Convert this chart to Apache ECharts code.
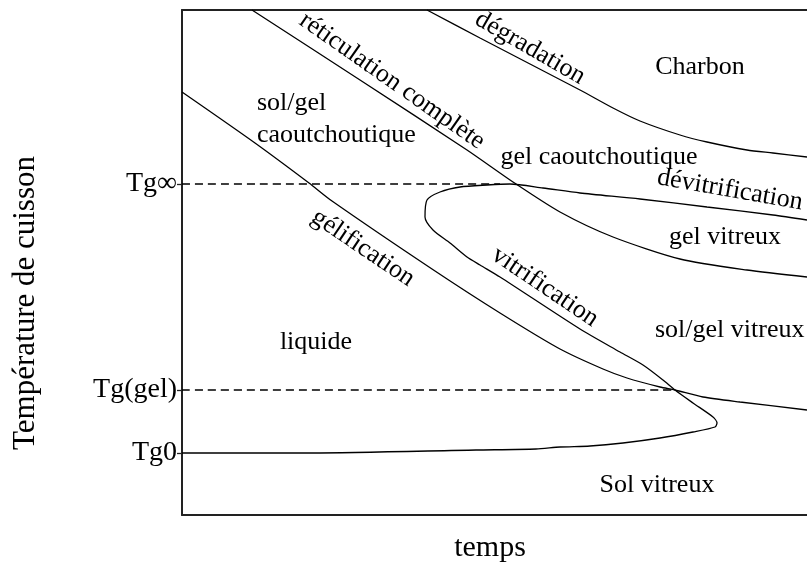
<!DOCTYPE html>
<html>
<head>
<meta charset="utf-8">
<script src="https://cdn.jsdelivr.net/npm/echarts@6/dist/echarts.min.js"></script>
<style>
  html, body { margin: 0; padding: 0; background: #fff; }
  #graph { width: 807px; height: 565px; }
</style>
</head>
<body>
<div id="graph"></div>
<script>
// axes: temps (arbitrary units), température (arbitrary units)
var xMax = 625;
var yMax = 505;

// températures caractéristiques
var tickValues = [62, 125, 331];
var tickLabels = ['Tg0', 'Tg(gel)', 'Tg\u221e'];

// courbes [temps, température]
var degradation = [[245, 505], [298, 477], [398, 425], [431, 407], [458, 394], [498, 380], [525, 373], [565, 365], [591, 362], [625, 358]];
var reticulation = [[70, 505], [178, 435], [285, 365], [331, 333], [378, 303], [431, 278], [498, 256], [565, 245], [625, 238]];
var gelification = [[0, 423], [73, 372], [127, 332], [150, 314], [250, 246], [318, 202], [378, 166], [421, 146], [445, 137], [478, 128], [493, 125], [521, 118], [558, 113], [625, 105]];
// Tg0 -> nez -> vitrification -> boucle -> dévitrification
var vitrification = [[0, 62], [130, 62], [294, 65], [354, 66], [378, 68], [408, 69], [441, 72], [478, 77], [511, 83],
  [533, 88], [535, 92], [531, 98], [511, 112], [493, 125], [481, 135], [461, 150], [438, 163], [398, 186],
  [318, 238], [298, 250], [285, 258], [268, 272], [251, 285], [243, 298], [245, 315], [258, 323], [278, 328], [305, 330],
  [328, 331], [361, 327], [398, 322], [458, 316], [525, 308], [591, 300], [625, 295]];

// lignes pointillées horizontales
var tgInfLine = [[0, 331], [318, 331]];
var tgGelLine = [[0, 125], [493, 125]];

// textes sur la figure: [temps, température, texte, rotation, alignement]
var labelsText = ['réticulation complète', 'dégradation', 'gélification', 'vitrification', 'dévitrification',
  'Charbon', 'sol/gel', 'caoutchoutique', 'gel caoutchoutique', 'gel vitreux', 'sol/gel vitreux', 'liquide', 'Sol vitreux'];
var labelsX = [210, 348, 181, 363, 548, 518, 75, 75, 417, 543, 473, 134, 475];
var labelsY = [434, 467, 267, 228, 325, 448, 412, 380, 358, 278, 185, 173, 30];
var labelsRotate = [-35, -30, -34, -34, -10, 0, 0, 0, 0, 0, 0, 0, 0];
var labelsAlign = ['center', 'center', 'center', 'center', 'center', 'center', 'left', 'left', 'center', 'center', 'left', 'center', 'center'];

var FONT = '"Liberation Serif", "Times New Roman", serif';

var labelData = [];
for (var i = 0; i < labelsText.length; i++) {
    labelData.push({
        value: [labelsX[i], labelsY[i]],
        name: labelsText[i],
        label: { rotate: labelsRotate[i], align: labelsAlign[i] }
    });
}

function curve(data, dashed) {
    return {
        type: 'line',
        data: data,
        symbol: 'none',
        silent: true,
        smooth: 0.25,
        lineStyle: {
            color: '#000',
            width: 1.3,
            type: dashed ? [8, 5] : 'solid'
        }
    };
}

var myChart = echarts.init(document.getElementById('graph'));
var option = {
    animation: false,
    backgroundColor: '#fff',
    grid: { left: 182, right: 0, top: 10, bottom: 50, containLabel: false, outerBoundsMode: 'none' },
    xAxis: [
        {
            type: 'value', min: 0, max: xMax, position: 'bottom',
            axisLine: { show: true, lineStyle: { color: '#222', width: 2 } },
            axisTick: { show: false }, axisLabel: { show: false }, splitLine: { show: false }
        },
        {
            type: 'value', min: 0, max: xMax, position: 'top',
            axisLine: { show: true, lineStyle: { color: '#222', width: 2 } },
            axisTick: { show: false }, axisLabel: { show: false }, splitLine: { show: false }
        }
    ],
    yAxis: {
        type: 'value', min: 0, max: yMax,
        axisLine: { show: true, lineStyle: { color: '#222', width: 2 } },
        splitLine: { show: false },
        axisTick: {
            show: true, length: 5, customValues: tickValues,
            lineStyle: { color: '#222', width: 1.3 }
        },
        axisLabel: {
            show: true, margin: 5, customValues: tickValues,
            fontFamily: FONT, fontSize: 28, color: '#000',
            formatter: function (value) {
                var k = tickValues.indexOf(value);
                return k >= 0 ? tickLabels[k] : '';
            }
        }
    },
    series: [
        curve(degradation),
        curve(reticulation),
        curve(gelification),
        curve(vitrification),
        curve(tgInfLine, true),
        curve(tgGelLine, true),
        {
            type: 'scatter',
            data: labelData,
            symbolSize: 0,
            silent: true,
            itemStyle: { opacity: 1 },
            label: {
                show: true,
                position: 'inside',
                verticalAlign: 'middle',
                fontFamily: FONT,
                fontSize: 26,
                color: '#000',
                opacity: 1,
                formatter: function (p) { return p.name; }
            }
        }
    ],
    graphic: [
        {
            type: 'text', x: 26, y: 303, rotation: Math.PI / 2,
            style: { text: 'Température de cuisson', font: '31px ' + FONT, fill: '#000', align: 'center', verticalAlign: 'middle' }
        },
        {
            type: 'text', x: 490, y: 548,
            style: { text: 'temps', font: '30px ' + FONT, fill: '#000', align: 'center', verticalAlign: 'middle' }
        }
    ]
};
myChart.setOption(option);
</script>
</body>
</html>
